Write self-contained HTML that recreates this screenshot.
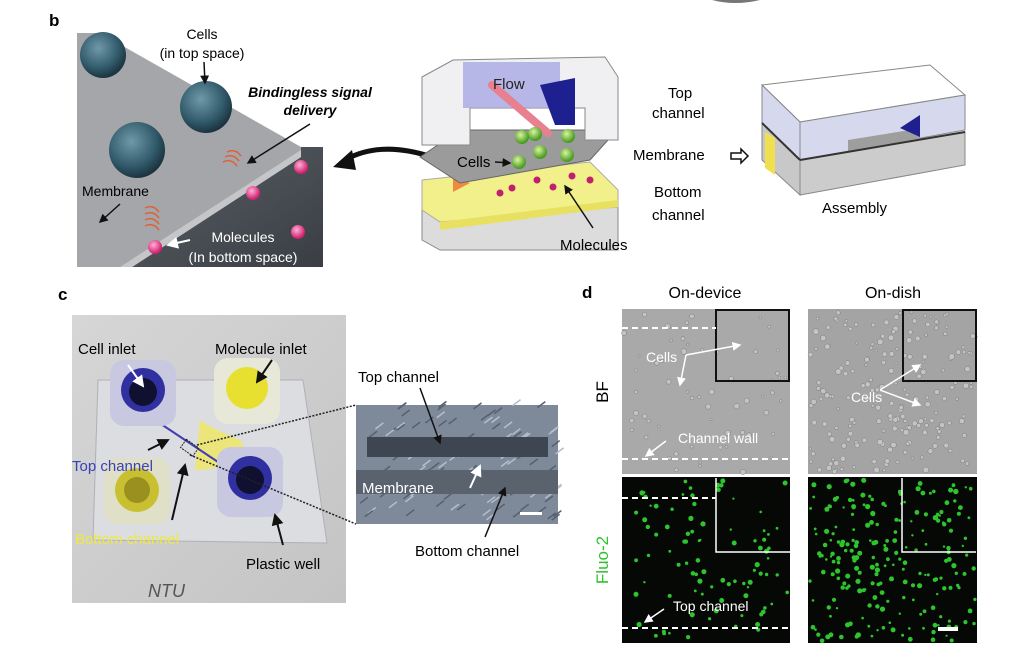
<!DOCTYPE html>
<html><head><meta charset="utf-8"><style>
html,body{margin:0;padding:0;background:#fff}
svg{display:block}
text{font-family:"Liberation Sans",sans-serif}
</style></head><body>
<svg id="s" width="1024" height="656" viewBox="0 0 1024 656" xmlns="http://www.w3.org/2000/svg">
<defs>
<radialGradient id="cell" cx="40%" cy="35%" r="65%"><stop offset="0" stop-color="#6f98a8"/><stop offset="0.7" stop-color="#2f5868"/><stop offset="1" stop-color="#1d3440"/></radialGradient>
<radialGradient id="pink" cx="40%" cy="35%" r="60%"><stop offset="0" stop-color="#ffb0d8"/><stop offset="1" stop-color="#d0206e"/></radialGradient>
<radialGradient id="green" cx="40%" cy="35%" r="60%"><stop offset="0" stop-color="#d8f5a0"/><stop offset="1" stop-color="#4a9a20"/></radialGradient>
<linearGradient id="dark" x1="0" y1="0" x2="1" y2="1"><stop offset="0" stop-color="#5a5f66"/><stop offset="1" stop-color="#3a3e44"/></linearGradient>
<linearGradient id="photo" x1="0" y1="0" x2="1" y2="1"><stop offset="0" stop-color="#d6d6d6"/><stop offset="1" stop-color="#c4c4c4"/></linearGradient>
<marker id="ab" markerWidth="6" markerHeight="6" refX="5" refY="3" orient="auto"><path d="M0,0L6,3L0,6z" fill="#111"/></marker>
<marker id="aw" markerWidth="6" markerHeight="6" refX="5" refY="3" orient="auto"><path d="M0,0L6,3L0,6z" fill="#fff"/></marker>
</defs>
<path d="M712,0 Q735,6 760,0z" fill="#777"/>
<text x="49" y="26" font-size="17" font-weight="bold">b</text>
<rect x="77" y="33" width="246" height="234" fill="#fff"/>
<polygon points="301,147 323,147 323,267 132,267 301,157" fill="url(#dark)"/>
<polygon points="77,33 100,33 301,147 301,157 132,267 77,267" fill="#a4a6a9"/>
<polygon points="132,267 301,157 301,150 120,267" fill="#c4c6c8"/>
<circle cx="103" cy="55" r="23" fill="url(#cell)"/>
<circle cx="206" cy="107" r="26" fill="url(#cell)"/>
<circle cx="137" cy="150" r="28" fill="url(#cell)"/>
<circle cx="301" cy="167" r="7" fill="url(#pink)"/>
<circle cx="253" cy="193" r="7" fill="url(#pink)"/>
<circle cx="298" cy="232" r="7" fill="url(#pink)"/>
<circle cx="155" cy="247" r="7" fill="url(#pink)"/>
<g fill="none" stroke="#e0603a" stroke-width="1.5"><path d="M227,152 q8,-4 14,4"/><path d="M225,157 q8,-4 14,4"/><path d="M223,162 q8,-4 14,4"/><path d="M145,208 q8,-4 14,4"/><path d="M145,214 q8,-4 14,4"/><path d="M145,220 q8,-4 14,4"/><path d="M145,226 q8,-4 14,4"/></g>
<text x="202" y="39" font-size="14" text-anchor="middle">Cells</text>
<text x="202" y="58" font-size="14" text-anchor="middle">(in top space)</text>
<line x1="204" y1="62" x2="205" y2="83" stroke="#111" stroke-width="1.5" marker-end="url(#ab)"/>
<text x="310" y="97" font-size="14" font-weight="bold" font-style="italic" text-anchor="middle">Bindingless signal</text>
<text x="310" y="115" font-size="14" font-weight="bold" font-style="italic" text-anchor="middle">delivery</text>
<line x1="310" y1="124" x2="248" y2="163" stroke="#111" stroke-width="1.5" marker-end="url(#ab)"/>
<text x="82" y="196" font-size="14">Membrane</text>
<line x1="120" y1="204" x2="100" y2="222" stroke="#111" stroke-width="1.5" marker-end="url(#ab)"/>
<text x="243" y="242" font-size="14" fill="#fff" text-anchor="middle">Molecules</text>
<text x="243" y="262" font-size="14" fill="#fff" text-anchor="middle">(In bottom space)</text>
<line x1="190" y1="240" x2="168" y2="245" stroke="#fff" stroke-width="2" marker-end="url(#aw)"/>
<path d="M432,157 Q380,140 345,160" fill="none" stroke="#111" stroke-width="5"/>
<polygon points="333,167 352,150 356,170" fill="#111"/>
<polygon points="422,207 618,207 618,250 440,250 422,240" fill="#dcdcdc" stroke="#888"/>
<polygon points="422,180 590,162 618,190 618,207 440,222 422,210" fill="#f2f08a" stroke="#aaa"/>
<polygon points="440,222 618,200 618,207 440,230" fill="#e8e060"/>
<polygon points="453,177 470,183 453,192" fill="#f08a40"/>
<polygon points="420,157 460,130 617,130 590,160 460,183" fill="#9b9b9b" stroke="#666"/>
<polygon points="422,77 453,60 605,57 618,77 618,140 585,140 585,108 470,108 470,145 422,145" fill="#f0f0f3" stroke="#888"/>
<polygon points="463,62 560,62 560,108 463,108" fill="#a8a8e4" opacity="0.8"/>
<polygon points="540,85 575,78 575,125 555,125" fill="#1e2090"/>
<line x1="492" y1="85" x2="548" y2="133" stroke="#e88090" stroke-width="8" stroke-linecap="round"/>
<text x="493" y="89" font-size="15" fill="#222">Flow</text>
<circle cx="535" cy="134" r="7" fill="url(#green)"/><circle cx="568" cy="136" r="7" fill="url(#green)"/><circle cx="540" cy="152" r="7" fill="url(#green)"/><circle cx="567" cy="155" r="7" fill="url(#green)"/><circle cx="519" cy="162" r="7" fill="url(#green)"/><circle cx="522" cy="137" r="7" fill="url(#green)"/>
<circle cx="512" cy="188" r="3.5" fill="#c02070"/><circle cx="537" cy="180" r="3.5" fill="#c02070"/><circle cx="553" cy="187" r="3.5" fill="#c02070"/><circle cx="572" cy="176" r="3.5" fill="#c02070"/><circle cx="590" cy="180" r="3.5" fill="#c02070"/><circle cx="500" cy="193" r="3.5" fill="#c02070"/>
<text x="457" y="167" font-size="15">Cells</text>
<line x1="495" y1="162" x2="510" y2="163" stroke="#111" stroke-width="1.5" marker-end="url(#ab)"/>
<line x1="593" y1="228" x2="565" y2="186" stroke="#111" stroke-width="1.5" marker-end="url(#ab)"/>
<text x="560" y="250" font-size="15">Molecules</text>
<text x="668" y="98" font-size="15">Top</text>
<text x="652" y="118" font-size="15">channel</text>
<text x="633" y="160" font-size="15">Membrane</text>
<text x="654" y="197" font-size="15">Bottom</text>
<text x="652" y="220" font-size="15">channel</text>
<polygon points="731,153 741,153 741,149 748,156 741,163 741,159 731,159" fill="#fff" stroke="#111" stroke-width="1.5"/>
<polygon points="762,85 930,65 965,95 800,122" fill="#fff" stroke="#888"/>
<polygon points="762,85 800,122 800,160 762,123" fill="#d6d8ee" stroke="#888"/>
<polygon points="800,122 965,95 965,130 800,160" fill="#d6d8ee" stroke="#888"/>
<polygon points="848,140 910,130 920,128 920,150 848,160" fill="#9e9e9e"/>
<polygon points="900,128 920,115 920,137" fill="#1e2090"/>
<polygon points="762,123 800,160 800,195 762,160" fill="#c8c8c8" stroke="#888"/>
<polygon points="800,160 965,132 965,165 800,195" fill="#cccccc" stroke="#888"/>
<polygon points="765,132 775,138 775,175 765,168" fill="#f0e050"/>
<line x1="762" y1="123" x2="800" y2="160" stroke="#333" stroke-width="2"/><line x1="800" y1="160" x2="965" y2="132" stroke="#333" stroke-width="2"/>
<text x="822" y="213" font-size="15">Assembly</text>
<text x="58" y="300" font-size="17" font-weight="bold">c</text>
<rect x="72" y="315" width="274" height="288" fill="url(#photo)"/>
<polygon points="98,380 303,380 327,543 93,540" fill="#dcdde0" stroke="#b0b0b8"/>
<path d="M200,420 Q215,430 240,440 L250,455 Q220,470 195,470 Z" fill="#f0e860" opacity="0.8"/>
<line x1="155" y1="420" x2="245" y2="480" stroke="#4040b0" stroke-width="2"/>
<g><rect x="110" y="360" width="66" height="66" rx="14" fill="#c8c8e0"/><circle cx="143" cy="390" r="22" fill="#3030a0"/><circle cx="143" cy="392" r="14" fill="#101030"/></g>
<g><rect x="214" y="358" width="66" height="66" rx="14" fill="#e8e8d8"/><circle cx="247" cy="388" r="21" fill="#e8e030"/></g>
<g><rect x="104" y="458" width="66" height="66" rx="14" fill="#e0e0c8"/><circle cx="137" cy="490" r="22" fill="#c8c030"/><circle cx="137" cy="490" r="13" fill="#9a9020"/></g>
<g><rect x="217" y="447" width="66" height="70" rx="14" fill="#c8c8e0"/><circle cx="250" cy="478" r="22" fill="#3030a0"/><circle cx="250" cy="480" r="14" fill="#101030"/></g>
<text x="78" y="354" font-size="15">Cell inlet</text>
<text x="215" y="354" font-size="15">Molecule inlet</text>
<line x1="128" y1="365" x2="143" y2="386" stroke="#fff" stroke-width="2" marker-end="url(#aw)"/>
<line x1="272" y1="360" x2="257" y2="382" stroke="#111" stroke-width="2" marker-end="url(#ab)"/>
<text x="72" y="471" font-size="15" fill="#3a40b8">Top channel</text>
<text x="75" y="544" font-size="15" fill="#f0e840">Bottom channel</text>
<text x="246" y="569" font-size="15">Plastic well</text>
<text x="148" y="597" font-size="18" fill="#555" font-style="italic">NTU</text>
<line x1="148" y1="450" x2="168" y2="440" stroke="#111" stroke-width="2" marker-end="url(#ab)"/>
<line x1="172" y1="520" x2="185" y2="465" stroke="#111" stroke-width="2" marker-end="url(#ab)"/>
<line x1="283" y1="545" x2="275" y2="515" stroke="#111" stroke-width="2" marker-end="url(#ab)"/>
<rect x="182" y="443" width="15" height="10" fill="none" stroke="#222" stroke-dasharray="2,1" transform="rotate(35 190 448)"/>
<line x1="197" y1="445" x2="356" y2="405" stroke="#222" stroke-dasharray="2,1.5" stroke-width="1.5"/>
<line x1="190" y1="455" x2="356" y2="524" stroke="#222" stroke-dasharray="2,1.5" stroke-width="1.5"/>
<rect x="356" y="405" width="202" height="119" fill="#7e8a9a"/>
<g id="tex"></g>
<rect x="367" y="437" width="181" height="20" fill="#3e4652"/>
<rect x="356" y="470" width="202" height="24" fill="#5a626e"/>
<rect x="520" y="512" width="22" height="3" fill="#fff"/>
<text x="358" y="382" font-size="15">Top channel</text>
<line x1="420" y1="388" x2="440" y2="443" stroke="#111" stroke-width="1.5" marker-end="url(#ab)"/>
<text x="362" y="493" font-size="15" fill="#fff">Membrane</text>
<line x1="470" y1="488" x2="480" y2="466" stroke="#fff" stroke-width="2" marker-end="url(#aw)"/>
<text x="415" y="556" font-size="15">Bottom channel</text>
<line x1="485" y1="537" x2="505" y2="488" stroke="#111" stroke-width="1.5" marker-end="url(#ab)"/>
<text x="582" y="298" font-size="17" font-weight="bold">d</text>
<text x="705" y="298" font-size="16" text-anchor="middle">On-device</text>
<text x="893" y="298" font-size="16" text-anchor="middle">On-dish</text>
<text x="608" y="392" font-size="17" transform="rotate(-90 608 392)" text-anchor="middle">BF</text>
<text x="608" y="560" font-size="17" fill="#30c030" transform="rotate(-90 608 560)" text-anchor="middle">Fluo-2</text>
<rect x="622" y="309" width="168" height="165" fill="#a9a9a9"/>
<rect x="808" y="309" width="169" height="165" fill="#a4a4a4"/>
<rect x="622" y="477" width="168" height="166" fill="#060806"/>
<rect x="808" y="477" width="169" height="166" fill="#060806"/>
<g id="dots"></g>
<rect x="716" y="310" width="73" height="71" fill="none" stroke="#111" stroke-width="2"/>
<rect x="903" y="310" width="73" height="71" fill="none" stroke="#111" stroke-width="2"/>
<polyline points="716,478 716,552 790,552" fill="none" stroke="#fff" stroke-width="1.5"/>
<polyline points="902,478 902,552 976,552" fill="none" stroke="#fff" stroke-width="1.5"/>
<g stroke="#fff" stroke-width="2" stroke-dasharray="6,4"><line x1="622" y1="328" x2="716" y2="328"/><line x1="622" y1="459" x2="790" y2="459"/><line x1="622" y1="498" x2="716" y2="498"/><line x1="622" y1="628" x2="790" y2="628"/></g>
<text x="646" y="362" font-size="14" fill="#fff">Cells</text>
<line x1="686" y1="355" x2="740" y2="345" stroke="#fff" stroke-width="1.5" marker-end="url(#aw)"/>
<line x1="686" y1="355" x2="680" y2="385" stroke="#fff" stroke-width="1.5" marker-end="url(#aw)"/>
<text x="678" y="443" font-size="14" fill="#fff">Channel wall</text>
<line x1="666" y1="441" x2="646" y2="456" stroke="#fff" stroke-width="1.5" marker-end="url(#aw)"/>
<text x="851" y="402" font-size="14" fill="#fff">Cells</text>
<line x1="880" y1="390" x2="920" y2="365" stroke="#fff" stroke-width="1.5" marker-end="url(#aw)"/>
<line x1="880" y1="390" x2="920" y2="405" stroke="#fff" stroke-width="1.5" marker-end="url(#aw)"/>
<text x="673" y="611" font-size="14" fill="#fff">Top channel</text>
<line x1="664" y1="609" x2="645" y2="622" stroke="#fff" stroke-width="1.5" marker-end="url(#aw)"/>
<rect x="938" y="627" width="20" height="4" fill="#fff"/>
</svg>
<script>
var s=1;function r(){s=(s*16807)%2147483647;return s/2147483647;}
var g=document.getElementById("dots"),h="";
function add(x0,y0,w,hh,n,col,rr,st){for(var i=0;i<n;i++){var x=x0+r()*w,y=y0+r()*hh,rad=rr*(0.6+r()*0.8);h+='<circle cx="'+x.toFixed(1)+'" cy="'+y.toFixed(1)+'" r="'+rad.toFixed(1)+'" '+(st?'fill="#c4c4c4" stroke="#7a7a7a" stroke-width="0.5"':'fill="'+col+'"')+'/>';}}
add(624,312,164,160,60,"",2.0,1);
add(810,312,165,160,200,"",2.1,1);
add(624,480,164,161,90,"#2ec42e",1.9,0);
add(810,480,165,161,220,"#2ec42e",1.9,0);
g.innerHTML=h;
var t=document.getElementById("tex"),th="";
for(var i=0;i<120;i++){var x=356+r()*200,y=405+r()*117;th+='<line x1="'+x+'" y1="'+y+'" x2="'+(x+8)+'" y2="'+(y-6)+'" stroke="'+(r()<0.5?'#b4bece':'#56606e'+'')+'" stroke-width="1.5"/>';}
t.innerHTML=th;
</script>
</body></html>
